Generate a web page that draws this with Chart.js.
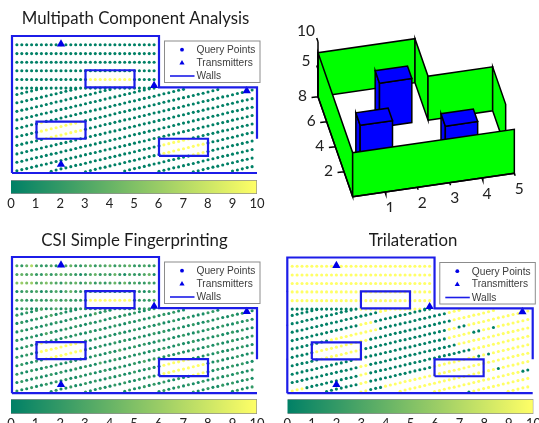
<!DOCTYPE html>
<html><head><meta charset="utf-8">
<script src="https://cdn.jsdelivr.net/npm/chart.js@4"></script>
<style>
html,body{margin:0;padding:0;background:#fff;width:539px;height:423px;overflow:hidden}
canvas{position:absolute;filter:blur(0.35px)}
</style></head><body>
<script>
// ---------- titles, ticks and legend text ----------
const panelTitles = ["Multipath Component Analysis", "CSI Simple Fingerprinting", "Trilateration"];
const legendLabels = ["Query Points", "Transmitters", "Walls"];
const colorbarTicks = [0,1,2,3,4,5,6,7,8,9,10];

// ---------- floor plan (data units) ----------
const wallX = [0,0,6,6,10,10,null,0,10,null,1,3,3,1,1,null,3,5,5,3,3,null,6,8,8,6,6];
const wallY = [0,5.6,5.6,3.5,3.5,1.4,null,0,0,null,1.4,1.4,2.1,2.1,1.4,null,3.5,3.5,4.2,4.2,3.5,null,0.7,0.7,1.4,1.4,0.7];
const wallTickX = [1,2,3,4,5,6,7,8,9,0,0,0];
const wallTickY = [0,0,0,0,0,0,0,0,0,1.4,2.8,4.2];
const transmitterX = [2,5.8,9.58,2];
const transmitterY = [5.27,3.57,3.36,0.35];

// ---------- query points: column x positions, then y of each row ----------
const queryColumnsX = [0.2,0.4,0.6,0.8,1,1.2,1.4,1.6,1.8,2,2.2,2.4,2.6,2.8,3,3.2,3.4,3.6,3.8,4,4.2,4.4,4.6,4.8,5,5.2,5.4,5.6,5.8,6,6.2,6.4,6.6,6.8,7,7.2,7.4,7.6,7.8,8,8.2,8.4,8.6,8.8,9,9.2,9.4,9.6,9.8];
const row00 = [5.24,5.24,5.24,5.24,5.24,5.24,5.24,5.24,5.24,5.24,5.24,5.24,5.24,5.24,5.24,5.24,5.24,5.24,5.24,5.24,5.24,5.24,5.24,5.24,5.24,5.24,5.24,5.24,5.24];
const row01 = [4.88,4.88,4.88,4.88,4.88,4.88,4.88,4.88,4.88,4.88,4.88,4.88,4.88,4.88,4.88,4.88,4.88,4.88,4.88,4.88,4.88,4.88,4.88,4.88,4.88,4.88,4.88,4.88,4.88];
const row02 = [4.53,4.53,4.53,4.53,4.53,4.53,4.53,4.53,4.53,4.53,4.53,4.53,4.53,4.53,4.53,4.53,4.53,4.53,4.53,4.53,4.53,4.53,4.53,4.53,4.53,4.53,4.53,4.53,4.53];
const row03 = [4.18,4.18,4.18,4.18,4.18,4.18,4.18,4.18,4.18,4.18,4.18,4.18,4.18,4.18,4.18,4.18,4.18,4.18,4.18,4.18,4.18,4.18,4.18,4.18,4.18,4.18,4.18,4.18,4.18];
const row04 = [3.82,3.82,3.82,3.82,3.82,3.82,3.82,3.82,3.82,3.82,3.82,3.82,3.82,3.82,3.82,3.82,3.82,3.82,3.82,3.82,3.82,3.82,3.82,3.82,3.82,3.82,3.82,3.82,3.82];
const row05 = [3.47,3.47,3.47,3.47,3.47,3.47,3.47,3.47,3.47,3.47,3.47,3.47,3.47,3.47,3.47,3.47,3.47,3.47,3.47,3.47,3.47,3.47,3.47,3.47,3.47,3.47,3.47,3.47,3.47];
const row06 = [3.21,3.26,3.31,3.35,3.40,3.45];
const row07 = [2.87,2.91,2.96,3.01,3.05,3.10,3.15,3.20,3.24,3.29,3.34,3.38,3.43];
const row08 = [2.52,2.57,2.61,2.66,2.71,2.75,2.80,2.85,2.90,2.94,2.99,3.04,3.08,3.13,3.18,3.22,3.27,3.32,3.37,3.41];
const row09 = [2.17,2.22,2.27,2.31,2.36,2.41,2.45,2.50,2.55,2.60,2.64,2.69,2.74,2.78,2.83,2.88,2.92,2.97,3.02,3.07,3.11,3.16,3.21,3.25,3.30,3.35,3.39,3.44];
const row10 = [1.83,1.87,1.92,1.97,2.01,2.06,2.11,2.15,2.20,2.25,2.30,2.34,2.39,2.44,2.48,2.53,2.58,2.62,2.67,2.72,2.77,2.81,2.86,2.91,2.95,3.00,3.05,3.09,3.14,3.19,3.24,3.28,3.33,3.38,3.42];
const row11 = [1.48,1.53,1.57,1.62,1.67,1.71,1.76,1.81,1.85,1.90,1.95,2.00,2.04,2.09,2.14,2.18,2.23,2.28,2.32,2.37,2.42,2.47,2.51,2.56,2.61,2.65,2.70,2.75,2.79,2.84,2.89,2.94,2.98,3.03,3.08,3.12,3.17,3.22,3.26,3.31,3.36,3.41];
const row12 = [1.13,1.18,1.23,1.27,1.32,1.37,1.41,1.46,1.51,1.55,1.60,1.65,1.70,1.74,1.79,1.84,1.88,1.93,1.98,2.02,2.07,2.12,2.17,2.21,2.26,2.31,2.35,2.40,2.45,2.49,2.54,2.59,2.64,2.68,2.73,2.78,2.82,2.87,2.92,2.96,3.01,3.06,3.11,3.15,3.20,3.25,3.29,3.34,3.39];
const row13 = [.78,.83,.88,.93,.97,1.02,1.07,1.11,1.16,1.21,1.25,1.30,1.35,1.40,1.44,1.49,1.54,1.58,1.63,1.68,1.72,1.77,1.82,1.87,1.91,1.96,2.01,2.05,2.10,2.15,2.19,2.24,2.29,2.34,2.38,2.43,2.48,2.52,2.57,2.62,2.66,2.71,2.76,2.81,2.85,2.90,2.95,2.99,3.04];
const row14 = [.44,.48,.53,.58,.63,.67,.72,.77,.81,.86,.91,.95,1.00,1.05,1.10,1.14,1.19,1.24,1.28,1.33,1.38,1.42,1.47,1.52,1.57,1.61,1.66,1.71,1.75,1.80,1.85,1.89,1.94,1.99,2.04,2.08,2.13,2.18,2.22,2.27,2.32,2.36,2.41,2.46,2.51,2.55,2.60,2.65,2.69];
const row15 = [.09,.14,.18,.23,.28,.33,.37,.42,.47,.51,.56,.61,.65,.70,.75,.80,.84,.89,.94,.98,1.03,1.08,1.12,1.17,1.22,1.27,1.31,1.36,1.41,1.45,1.50,1.55,1.59,1.64,1.69,1.74,1.78,1.83,1.88,1.92,1.97,2.02,2.06,2.11,2.16,2.21,2.25,2.30,2.35];
const row16 = [.07,.12,.17,.21,.26,.31,.35,.40,.45,.50,.54,.59,.64,.68,.73,.78,.82,.87,.92,.97,1.01,1.06,1.11,1.15,1.20,1.25,1.29,1.34,1.39,1.44,1.48,1.53,1.58,1.62,1.67,1.72,1.76,1.81,1.86,1.91,1.95,2.00];
const row17 = [.05,.10,.15,.20,.24,.29,.34,.38,.43,.48,.52,.57,.62,.67,.71,.76,.81,.85,.90,.95,.99,1.04,1.09,1.14,1.18,1.23,1.28,1.32,1.37,1.42,1.46,1.51,1.56,1.61,1.65];
const row18 = [.08,.13,.18,.22,.27,.32,.37,.41,.46,.51,.55,.60,.65,.69,.74,.79,.84,.88,.93,.98,1.02,1.07,1.12,1.16,1.21,1.26,1.31];
const row19 = [.07,.11,.16,.21,.25,.30,.35,.39,.44,.49,.54,.58,.63,.68,.72,.77,.82,.86,.91,.96];
const row20 = [.05,.09,.14,.19,.24,.28,.33,.38,.42,.47,.52,.56,.61];
const row21 = [.08,.12,.17,.22,.26];
const queryRows = [row00,row01,row02,row03,row04,row05,row06,row07,row08,row09,row10,row11,row12,row13,row14,row15,row16,row17,row18,row19,row20,row21];
const rowFirstColumn = [0,0,0,0,0,0,0,0,0,0,0,0,0,0,0,0,7,14,22,29,36,44];

// ---------- estimated error per query point, 0..10 colour scale ----------
// columns inside the internal obstacles (bright in every panel), by row index
const obstacleColumns = {4:[[15,23]],10:[[5,5]],11:[[5,13]],12:[[6,13]],16:[[30,35]],17:[[30,38]],18:[[36,38]]};
// Trilateration: columns with low error; everything else is 10
const trilaterationLowColumns = {5:[[0,13],[27,28]],6:[[0,5]],7:[[0,12]],8:[[0,17]],9:[[0,13],[17,27]],10:[[0,7],[18,31]],11:[[0,4],[16,32]],12:[[0,5],[15,31],[34,35]],13:[[0,12],[15,31],[37,38],[41,41]],14:[[0,13],[16,33]],15:[[3,13],[16,36]],16:[[7,13],[16,28],[38,38],[40,40]],17:[[16,18]],18:[[42,42]],19:[[47,48]],20:[[36,36]]};
// CSI fingerprinting: one digit per point of each row
const fingerprintDigits = [
"32473223123422342334233422322",
"34342242343321234232421322341",
"56563454324342342323424232232",
"12323122313422132123122312123",
"23213223423222132221232312223",
"12311212312212121321122131222",
"212123",
"1211212312111",
"12121121211212113121",
"2112113211212112121121212112",
"11212112112121121211211212112121211",
"212112113212112121121211211212112112111221",
"1211212112112131121121211211212112112112121121211",
"2112112121121211211213112121121211211212112112121",
"1211211212112121131121121211212112112112121121211",
"2112112121211212112112112131211212112112121121212",
"121121121211212112112112121121112121121211",
"21121121211212112112112121121112112",
"121121212112112112121121211",
"12112121121121212112",
"2112112121121",
"12112"];
</script>
<script>
// ---------- colour map ----------
function summer(v){const t=Math.max(0,Math.min(1,v/10));return `rgb(${Math.round(255*t)},${Math.round(128+127*t)},102)`;}
function inRuns(runs,c){return !!runs&&runs.some(r=>c>=r[0]&&c<=r[1]);}
const valueFns = [
  (r,c)=>inRuns(obstacleColumns[r],c)?10:0,
  (r,c,i)=>inRuns(obstacleColumns[r],c)?10:(parseInt(fingerprintDigits[r][i]||'1',10)),
  (r,c)=>inRuns(trilaterationLowColumns[r],c)?0:10
];
function queryData(fn){
  const pts=[],cols=[];
  queryRows.forEach((ys,r)=>ys.forEach((y,i)=>{const c=rowFirstColumn[r]+i;pts.push({x:queryColumnsX[c],y});cols.push(summer(fn(r,c,i)));}));
  return {pts,cols};
}
const zip=(a,b)=>a.map((x,i)=>({x,y:b[i]}));
const BLUE='#1c1ce8', FONT_TEXT='Lato', FONT_LEG='"Liberation Sans"';

function mk(left,top,w,h){const c=document.createElement('canvas');c.width=w;c.height=h;c.style.left=left+'px';c.style.top=top+'px';c.style.width=w+'px';c.style.height=h+'px';document.body.appendChild(c);return c;}

// legend + title drawn by one plugin, positioned from the chart area
const panelDecor={id:'panelDecor',afterDraw(chart,args,o){
  const ctx=chart.ctx,a=chart.chartArea;
  ctx.save();
  ctx.font=o.titleFont;ctx.fillStyle='#1c1c1c';ctx.textAlign='center';ctx.textBaseline='middle';
  ctx.fillText(o.title,o.titleX,o.titleY);
  const lx=a.left+152.5,ly=a.top+5,lw=95.5,lh=41.5;
  ctx.fillStyle='#fff';ctx.fillRect(lx,ly,lw,lh);
  ctx.strokeStyle='#8c8c8c';ctx.lineWidth=1;ctx.strokeRect(lx,ly,lw,lh);
  const rows=[8.7,21.5,35];
  const mx=lx+17.5,tx=lx+32;
  ctx.fillStyle='#0000e6';
  ctx.beginPath();ctx.arc(mx,ly+rows[0],1.9,0,7);ctx.fill();
  ctx.beginPath();ctx.moveTo(mx,ly+rows[1]-2.5);ctx.lineTo(mx+2.6,ly+rows[1]+2);ctx.lineTo(mx-2.6,ly+rows[1]+2);ctx.closePath();ctx.fill();
  ctx.strokeStyle=BLUE;ctx.lineWidth=1.6;ctx.beginPath();ctx.moveTo(lx+5.5,ly+rows[2]);ctx.lineTo(lx+30,ly+rows[2]);ctx.stroke();
  ctx.font='10.2px '+FONT_LEG;ctx.fillStyle='#3c3c3c';ctx.textAlign='left';
  legendLabels.forEach((t,i)=>ctx.fillText(t,tx,ly+rows[i]+0.5));
  ctx.restore();
}};

function plotPanel(i,left,top,w,h,pad,titleX,titleY){
  const q=queryData(valueFns[i]);
  new Chart(mk(left,top,w,h),{type:'scatter',plugins:[panelDecor],
    data:{datasets:[
      {label:legendLabels[2],data:zip(wallX,wallY),showLine:true,borderColor:BLUE,borderWidth:2.2,pointRadius:0,spanGaps:false,clip:false},
      {label:'wall ticks',data:zip(wallTickX,wallTickY),pointStyle:'rect',pointRadius:1.1,backgroundColor:BLUE,borderWidth:0,clip:false},
      {label:legendLabels[1],data:zip(transmitterX,transmitterY),pointStyle:'triangle',pointRadius:4.8,backgroundColor:'#0000e6',borderColor:'#0000e6',borderWidth:0,clip:false},
      {label:legendLabels[0],data:q.pts,pointRadius:1.55,backgroundColor:q.cols,borderWidth:0,clip:false}
    ]},
    options:{responsive:false,animation:false,devicePixelRatio:1,layout:{padding:pad},
      scales:{x:{type:'linear',min:0,max:10,display:false},y:{type:'linear',min:0,max:5.6,display:false}},
      plugins:{legend:{display:false},tooltip:{enabled:false},panelDecor:{title:panelTitles[i],titleX,titleY,titleFont:'16.8px '+FONT_TEXT}}}
  });
}
function colorbar(left,top,w,h,padL,padR,barH){
  new Chart(mk(left,top,w,h),{type:'bar',
    data:{labels:['c'],datasets:[{data:[10],barPercentage:1,categoryPercentage:1,borderColor:'#8f8f8f',borderWidth:1,
      backgroundColor(ctx){const c=ctx.chart,a=c.chartArea;if(!a)return '#888';const g=c.ctx.createLinearGradient(a.left,0,a.right,0);colorbarTicks.forEach(v=>g.addColorStop(v/10,summer(v)));return g;}}]},
    options:{indexAxis:'y',responsive:false,animation:false,devicePixelRatio:1,layout:{padding:{left:padL,right:padR,top:0,bottom:0}},
      scales:{y:{display:false},
        x:{type:'linear',min:0,max:10,afterTickToLabelConversion(s){s.ticks=colorbarTicks.map(v=>({value:v,label:String(v)}));},
           afterFit(s){s.paddingLeft=0;s.paddingRight=0;s.height=h-barH;},
           grid:{display:false,drawTicks:false},border:{display:false},
           ticks:{padding:2,maxRotation:0,autoSkip:false,color:'#222',font:{family:FONT_TEXT,size:13}}}},
      plugins:{legend:{display:false},tooltip:{enabled:false}}}
  });
}
plotPanel(0,0,0,270,178,{left:12,right:13,top:36,bottom:5},135.5,18.5);
plotPanel(1,0,212,270,186,{left:12,right:13,top:45,bottom:4},134.5,28.5);
plotPanel(2,270,212,269,186,{left:17.3,right:6.3,top:45.5,bottom:3.5},143,28.5);
colorbar(0,180,270,30,11,13,14);
colorbar(0,399,270,24,11,13,15);
colorbar(270,399,269,24,17.3,5.5,15);

// ---------- 3D floor plan ----------
const wall3dHeight = 8;
// wall runs on the floor: [x0,y0,x1,y1], back to front
const backWall=[0,8,3,8], notchWall=[3,8,3,5], sideBack=[3,5,5,5], rightWall=[5,5,5,2], leftWall=[0,8,0,0], frontWall=[0,0,5,0];
// obstacles: [x0,x1,y0,y1]
const boxTall=[1.5,2.5,5,6], boxLeft=[0.5,1.5,2,3], boxRight=[3,4,1,2];
const ticks3dX=[1,2,3,4,5], ticks3dY=[2,4,6,8], ticks3dZ=[5,10];
const project=(x,y,z)=>({x:(248+97*x-13*y)/3,y:(590-14*x-37.5*y-16.5*z)/3});
const GREEN='#00ff00', BOXBLUE='#0000ff';
const face=(pts,color)=>({data:[...pts,pts[0]].map(p=>project(...p)),showLine:true,fill:'shape',backgroundColor:color,borderColor:'#000',borderWidth:1.5,pointRadius:0,clip:false,tension:0});
const wallFace=w=>face([[w[0],w[1],0],[w[2],w[3],0],[w[2],w[3],wall3dHeight],[w[0],w[1],wall3dHeight]],GREEN);
const boxFaces=b=>{const [a,c,d,e]=b,h=wall3dHeight;return [
  face([[a,d,0],[a,e,0],[a,e,h],[a,d,h]],BOXBLUE),
  face([[a,d,0],[c,d,0],[c,d,h],[a,d,h]],BOXBLUE),
  face([[a,d,h],[c,d,h],[c,e,h],[a,e,h]],BOXBLUE)];};
const axisLine=[];
const seg=(p,q)=>{axisLine.push(project(...p),project(...q),{x:null,y:null});};
seg([0,0,0],[5,0,0]);seg([0,0,0],[0,8,0]);seg([0,8,0],[0,8,10]);
ticks3dX.forEach(v=>seg([v,0,0],[v,-0.2,0]));
ticks3dY.forEach(v=>seg([0,v,0],[-0.2,v,0]));
ticks3dZ.forEach(v=>seg([0,8,v],[0,8.3,v]));
const ordered=[wallFace(backWall),wallFace(notchWall),wallFace(sideBack),wallFace(rightWall),
  ...boxFaces(boxTall),...boxFaces(boxLeft),...boxFaces(boxRight),wallFace(leftWall),wallFace(frontWall),
  {data:axisLine,showLine:true,borderColor:'#000',borderWidth:1.5,pointRadius:0,spanGaps:false,clip:false}];
ordered.forEach((d,i)=>d.order=ordered.length-i);
const labels3d={id:'labels3d',afterDraw(chart){
  const ctx=chart.ctx,sx=chart.scales.x,sy=chart.scales.y;
  ctx.save();ctx.font='15.5px '+FONT_TEXT;ctx.fillStyle='#222';ctx.textAlign='center';ctx.textBaseline='middle';
  const put=(t,p,dx,dy)=>ctx.fillText(t,sx.getPixelForValue(p.x)+dx,sy.getPixelForValue(p.y)+dy);
  ticks3dX.forEach(v=>put(String(v),project(v,0,0),5,15.5));
  ticks3dY.forEach(v=>put(String(v),project(0,v,0),-15.5,-0.5));
  ticks3dZ.forEach(v=>put(String(v),project(0,8,v),-12,v===10?-11:-8));
  ctx.restore();
}};
new Chart(mk(270,0,269,212),{type:'scatter',plugins:[labels3d],data:{datasets:ordered},
  options:{responsive:false,animation:false,devicePixelRatio:1,layout:{padding:0},
    scales:{x:{type:'linear',min:0,max:269,display:false},y:{type:'linear',min:0,max:212,reverse:true,display:false}},
    plugins:{legend:{display:false},tooltip:{enabled:false}}}});
</script>
</body></html>
